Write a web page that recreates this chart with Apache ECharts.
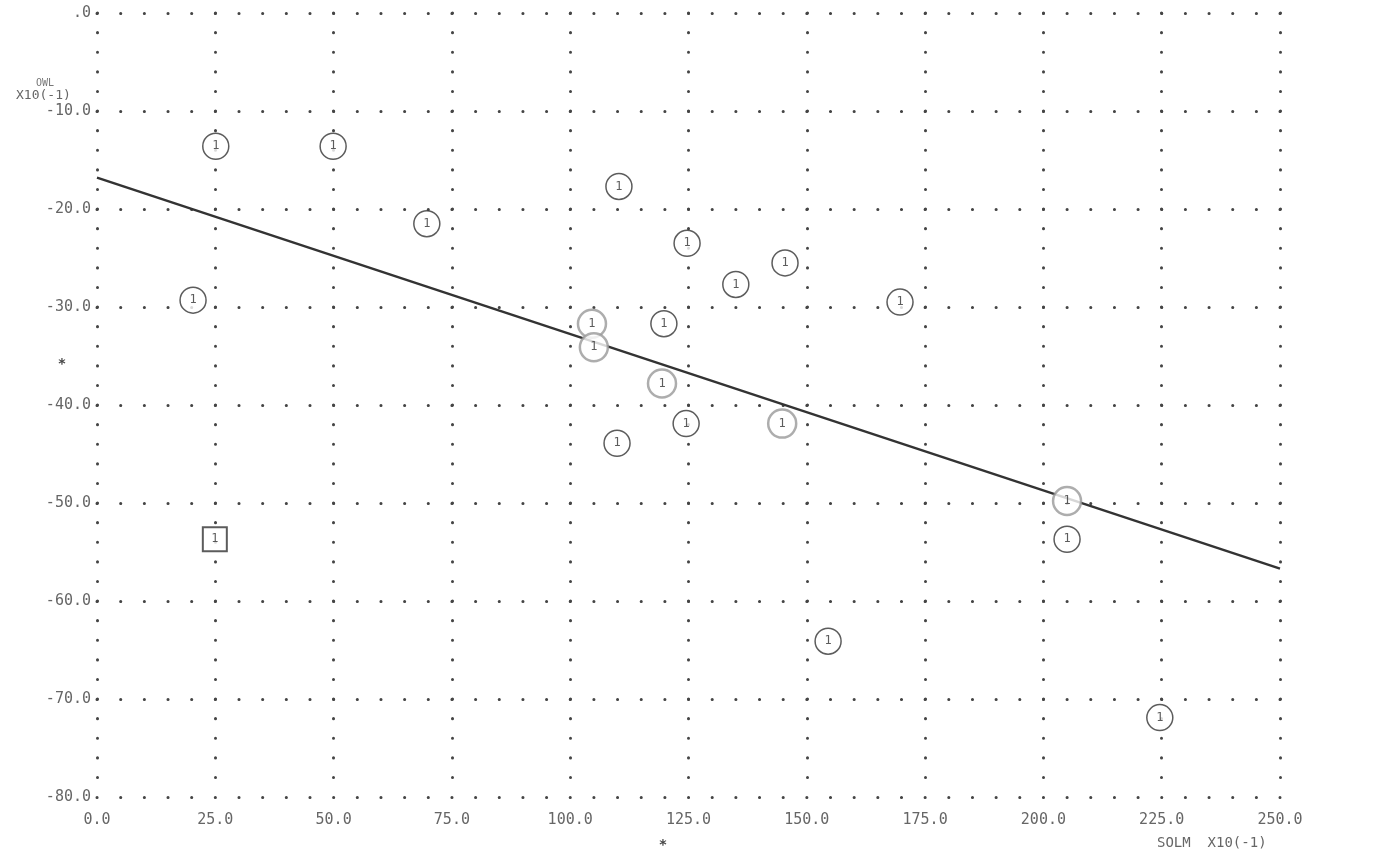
<!DOCTYPE html>
<html>
<head>
<meta charset="utf-8">
<script src="https://cdn.jsdelivr.net/npm/echarts@6/dist/echarts.min.js"></script>
<style>
  html, body { margin: 0; padding: 0; background: #fff; }
  #chart { width: 1382px; height: 850px; }
</style>
</head>
<body>
<div id="chart"></div>
<script>
var xTicks = [0, 25, 50, 75, 100, 125, 150, 175, 200, 225, 250];
var yTicks = [0, -10, -20, -30, -40, -50, -60, -70, -80];

// plotted points (SOLM, OWL) - black circles
var solm = [25.1, 49.9, 69.7, 20.3, 110.3, 124.7, 135.0, 145.4, 169.7, 119.8, 124.5, 109.9, 205.0, 154.5, 224.6];
var owl = [-13.6, -13.6, -21.5, -29.3, -17.7, -23.5, -27.7, -25.5, -29.5, -31.7, -41.9, -43.9, -53.7, -64.1, -71.9];
// grey circles (points near the fitted line)
var solmGrey = [104.6, 105.0, 119.4, 144.8, 205.0];
var owlGrey = [-31.7, -34.1, -37.8, -41.9, -49.8];
// boxed point
var solmBox = [24.9];
var owlBox = [-53.7];
// fitted line end points
var fitX = [0, 250];
var fitY = [-16.8, -56.7];
// means marked with "*"
var meanX = 119.6;
var meanY = -35.9;

var myChart = echarts.init(document.getElementById('chart'));
var font = '"DejaVu Sans Mono", monospace';

function pairs(xs, ys) {
  var out = [];
  for (var i = 0; i < xs.length; i++) out.push([xs[i], ys[i]]);
  return out;
}

var label1 = {
  show: true,
  formatter: '1',
  position: 'inside',
  color: '#333',
  fontSize: 12,
  fontFamily: font
};

option = {
  backgroundColor: '#fff',
  animation: false,
  grid: { left: 97, right: 102, top: 13, bottom: 53 },
  xAxis: {
    type: 'value',
    min: 0, max: 250, interval: 25,
    axisLine: { show: false },
    axisTick: { show: false },
    splitLine: {
      show: true,
      // dots every 2 units of OWL
      lineStyle: { color: '#444', width: 3, type: [0.1, 19.5], cap: 'round' }
    },
    axisLabel: {
      margin: 16,
      color: '#666',
      fontSize: 15,
      fontFamily: font,
      formatter: function (v) { return v.toFixed(1); }
    }
  },
  yAxis: {
    type: 'value',
    min: -80, max: 0, interval: 10,
    axisLine: { show: false },
    axisTick: { show: false },
    splitLine: {
      show: true,
      // dots every 5 units of SOLM
      lineStyle: { color: '#444', width: 3, type: [0.1, 23.56], cap: 'round' }
    },
    axisLabel: {
      margin: 6,
      color: '#666',
      fontSize: 15,
      fontFamily: font,
      formatter: function (v) { return v === 0 ? '.0' : v.toFixed(1); }
    }
  },
  series: [
    {
      type: 'line',
      data: pairs(fitX, fitY),
      symbol: 'none',
      lineStyle: { color: '#333', width: 2.5 },
      z: 2
    },
    {
      type: 'scatter',
      data: pairs(solm, owl),
      symbol: 'circle',
      symbolSize: 26,
      itemStyle: { color: '#fff', borderColor: '#333', borderWidth: 1.5 },
      label: label1,
      z: 3
    },
    {
      type: 'scatter',
      data: pairs(solmGrey, owlGrey),
      symbol: 'circle',
      symbolSize: 28,
      itemStyle: { color: '#fff', borderColor: '#999', borderWidth: 2.5 },
      label: label1,
      z: 3
    },
    {
      type: 'scatter',
      data: pairs(solmBox, owlBox),
      symbol: 'rect',
      symbolSize: 24,
      itemStyle: { color: '#fff', borderColor: '#333', borderWidth: 2 },
      label: label1,
      z: 3
    }
  ]
};

if (option && typeof option === "object") {
  myChart.setOption(option, true);
}

// axis names and mean markers
var px = myChart.convertToPixel({ gridIndex: 0 }, [meanX, meanY]);
myChart.setOption({
  graphic: [
    { type: 'text', left: 36, top: 78,
      style: { text: 'OWL', fill: '#777', font: '10px ' + font } },
    { type: 'text', left: 16, top: 89,
      style: { text: 'X10(-1)', fill: '#666', font: '13px ' + font } },
    { type: 'text', left: 1157, top: 836,
      style: { text: 'SOLM  X10(-1)', fill: '#666', font: '14px ' + font } },
    { type: 'text', x: 62, y: px[1], style: { text: '*', fill: '#444', font: 'bold 14px ' + font, align: 'center', verticalAlign: 'middle' } },
    { type: 'text', x: px[0], y: 845, style: { text: '*', fill: '#444', font: 'bold 14px ' + font, align: 'center', verticalAlign: 'middle' } }
  ]
});
</script>
</body>
</html>
